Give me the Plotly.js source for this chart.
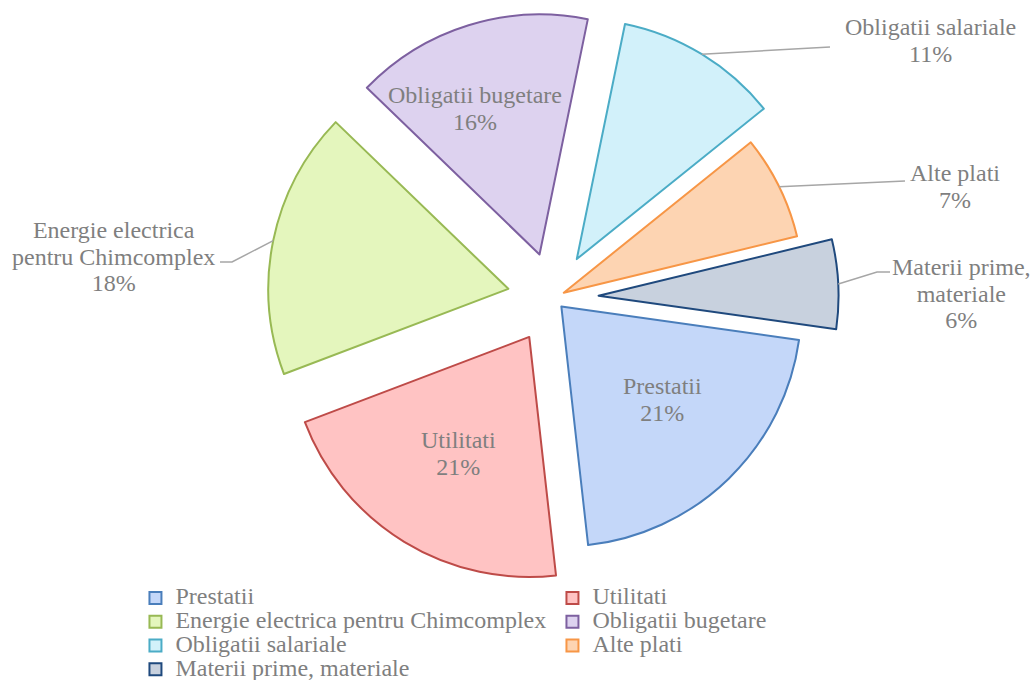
<!DOCTYPE html>
<html><head><meta charset="utf-8">
<script src="https://cdn.plot.ly/plotly-3.0.1.min.js"></script>
<style>html,body{margin:0;padding:0;background:#fff;}#chart{width:1034px;height:680px;}</style>
</head><body><div id="chart"></div>
<script>
// ---- data ----
const categories = ['Prestatii', 'Utilitati', 'Energie electrica pentru Chimcomplex', 'Obligatii bugetare', 'Obligatii salariale', 'Alte plati', 'Materii prime, materiale'];
const shares = [21, 21, 18, 16, 11, 7, 6];
const labelLines = [['Prestatii'], ['Utilitati'], ['Energie electrica', 'pentru Chimcomplex'], ['Obligatii bugetare'], ['Obligatii salariale'], ['Alte plati'], ['Materii prime,', 'materiale']];

// ---- style ----
const W = 1034, H = 680;
const fills = ['#c4d7f9', '#ffc3c3', '#e4f6bd', '#ddd2ef', '#d2f1fa', '#fdd4b2', '#c8d1de'];
const borders = ['#4a7ebb', '#be4b48', '#98b954', '#7d60a0', '#4bacc6', '#f79646', '#1f497d'];
const pulls = [0.05, 0.19, 0.19, 0.19, 0.19, 0.05, 0.19];
const rotation = 98;
const FONT = 'Liberation Serif, Times New Roman, serif';
const TXT = '#7f7f7f';
const big = s => '<span style="font-size:24px">' + s + '</span>';

// pie box (pixels) -> domain
const boxL = 267.4, boxR = 838.6, boxT = 12.4, boxB = 583.6;
const domain = {x: [boxL / W, boxR / W], y: [1 - boxB / H, 1 - boxT / H]};
const maxPull = Math.max(...pulls);
const R = Math.min(boxR - boxL, boxB - boxT) / (2 + 2 * maxPull);
const CX = (boxL + boxR) / 2, CY = (boxT + boxB) / 2;
const total = shares.reduce((a, b) => a + b, 0);
let cum = 0;
const mids = shares.map(v => { const a = rotation + 360 * (cum + v / 2) / total; cum += v; return a * Math.PI / 180; });
function arcPoint(i) { const a = mids[i]; const rr = pulls[i] * R + R; return [CX + rr * Math.sin(a), CY - rr * Math.cos(a)]; }
const px = x => x / W, py = y => 1 - y / H;
const pct = i => Math.round(shares[i] / total * 100) + '%';

// label placement (text centre, leader path after the slice edge point)
const place = [
  {i: 0, x: 662, y: 399},
  {i: 1, x: 458, y: 453},
  {i: 2, x: 113, y: 256, leader: [[232, 262], [220, 262]]},
  {i: 3, x: 475, y: 108},
  {i: 4, x: 930, y: 40, leader: [[830, 47]]},
  {i: 5, x: 955, y: 186, leader: [[905, 181]]},
  {i: 6, x: 961, y: 293, leader: [[877, 272], [890, 272]]}
];

const annotations = place.map(p => ({
  xref: 'paper', yref: 'paper', x: px(p.x), y: py(p.y), xanchor: 'center', yanchor: 'middle',
  showarrow: false, align: 'center',
  text: labelLines[p.i].concat([pct(p.i)]).map(big).join('<br>'),
  font: {family: FONT, size: 20.5, color: TXT}
}));
const shapes = place.filter(p => p.leader).map(p => {
  const s = arcPoint(p.i);
  const pts = [s].concat(p.leader);
  return {type: 'path', xref: 'paper', yref: 'paper',
    path: pts.map((q, k) => (k ? 'L' : 'M') + px(q[0]).toFixed(5) + ',' + py(q[1]).toFixed(5)).join(' '),
    line: {color: '#a6a6a6', width: 1.5}};
});

const trace = {
  type: 'pie', labels: categories.map(big), values: shares, sort: false,
  direction: 'clockwise', rotation: rotation, pull: pulls, domain: domain,
  textinfo: 'none', hoverinfo: 'skip',
  marker: {colors: fills, line: {color: borders, width: 2}}
};

const layout = {
  width: W, height: H, margin: {l: 0, r: 0, t: 0, b: 0, autoexpand: false},
  paper_bgcolor: '#ffffff', plot_bgcolor: '#ffffff',
  showlegend: true,
  legend: {orientation: 'h', x: 0.131, xanchor: 'left', y: py(581), yanchor: 'top',
    entrywidth: 372, entrywidthmode: 'pixels', traceorder: 'normal',
    font: {family: FONT, size: 16, color: TXT}, bgcolor: 'rgba(0,0,0,0)'},
  annotations: annotations, shapes: shapes
};

Plotly.newPlot('chart', [trace], layout, {displayModeBar: false, staticPlot: true});
</script></body></html>
